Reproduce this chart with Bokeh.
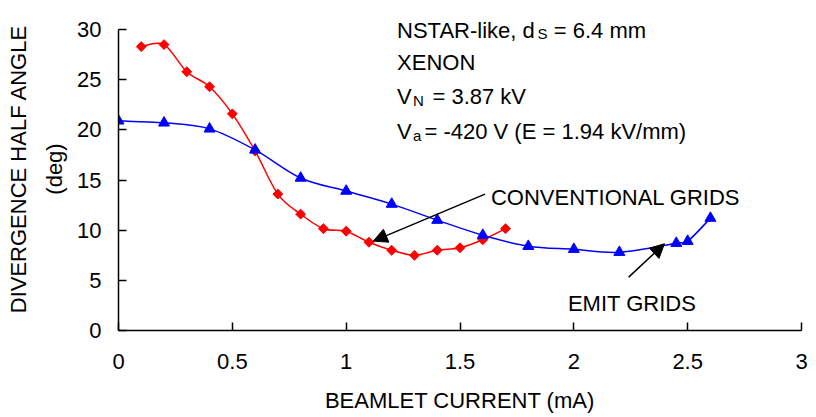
import numpy as np
from bokeh.plotting import figure
from bokeh.models import Range1d, FixedTicker, Label, Arrow, NormalHead
from bokeh.embed import file_html
from bokeh.resources import INLINE

# ---- data ----
conv_x = [0.1, 0.2, 0.3, 0.4, 0.5, 0.6, 0.7, 0.8, 0.9, 1.0, 1.1, 1.2, 1.3, 1.4, 1.5, 1.6, 1.7]
conv_y = [28.3, 28.5, 25.8, 24.3, 21.6, 17.9, 13.6, 11.6, 10.15, 9.9, 8.8, 8.0, 7.5, 8.0, 8.25, 9.05, 10.15]

emit_x = [0.0, 0.2, 0.4, 0.6, 0.8, 1.0, 1.2, 1.4, 1.6, 1.8, 2.0, 2.2, 2.45, 2.5, 2.6]
emit_y = [20.9, 20.7, 20.1, 18.0, 15.2, 13.9, 12.6, 11.0, 9.5, 8.4, 8.1, 7.8, 8.7, 8.9, 11.2]

x_ticks = [0, 0.5, 1, 1.5, 2, 2.5, 3]
x_tick_labels = ["0", "0.5", "1", "1.5", "2", "2.5", "3"]
y_ticks = [0, 5, 10, 15, 20, 25, 30]
y_tick_labels = ["0", "5", "10", "15", "20", "25", "30"]

FONT = "Liberation Sans"
FS = "22px"
SUB = "15px"

p = figure(width=816, height=417, output_backend="svg", toolbar_location=None,
           title=None, x_range=Range1d(0, 3), y_range=Range1d(0, 32.2),
           min_border_left=118, min_border_right=15, min_border_top=7,
           min_border_bottom=87)
p.outline_line_color = None
p.xgrid.visible = False
p.ygrid.visible = False
p.background_fill_color = "white"
p.border_fill_color = "white"

for ax in (p.xaxis[0], p.yaxis[0]):
    ax.major_tick_in = 8
    ax.major_tick_out = 0
    ax.minor_tick_line_color = None
    ax.axis_line_color = "#000000"
    ax.axis_line_width = 1.5
    ax.major_tick_line_color = "#000000"
    ax.major_tick_line_width = 1.5
    ax.major_label_text_font = FONT
    ax.major_label_text_font_size = FS
    ax.major_label_text_color = "#000000"
    ax.axis_label_text_font = FONT
    ax.axis_label_text_font_size = FS
    ax.axis_label_text_font_style = "normal"
    ax.axis_label_text_color = "#000000"

p.xaxis.ticker = FixedTicker(ticks=x_ticks)
p.xaxis.major_label_overrides = dict(zip(x_ticks, x_tick_labels))
p.xaxis.major_label_standoff = 23
p.xaxis.axis_label = "BEAMLET CURRENT (mA)"
p.xaxis.axis_label_standoff = 16

p.yaxis.bounds = (0, 30)
p.yaxis.ticker = FixedTicker(ticks=y_ticks)
p.yaxis.major_label_overrides = dict(zip(y_ticks, y_tick_labels))
p.yaxis.major_label_standoff = 17
p.yaxis.axis_label = "DIVERGENCE HALF ANGLE\n(deg)"
p.yaxis.axis_label_text_line_height = 1.45
p.yaxis.axis_label_standoff = 7


def smooth(xs, ys):
    x = np.asarray(xs, float)
    y = np.asarray(ys, float)
    n = len(x)
    xp = np.concatenate([[x[0]], x, [x[-1]]])
    yp = np.concatenate([[y[0]], y, [y[-1]]])
    cx0 = x[:-1] + (xp[2:n + 1] - xp[0:n - 1]) / 6.0
    cy0 = y[:-1] + (yp[2:n + 1] - yp[0:n - 1]) / 6.0
    cx1 = x[1:] - (xp[3:n + 2] - xp[1:n]) / 6.0
    cy1 = y[1:] - (yp[3:n + 2] - yp[1:n]) / 6.0
    return dict(x0=x[:-1], y0=y[:-1], x1=x[1:], y1=y[1:],
                cx0=cx0, cy0=cy0, cx1=cx1, cy1=cy1)


c = smooth(conv_x, conv_y)
p.bezier(x0=c["x0"], y0=c["y0"], x1=c["x1"], y1=c["y1"],
         cx0=c["cx0"], cy0=c["cy0"], cx1=c["cx1"], cy1=c["cy1"],
         line_color="#FF0000", line_width=1.5)
p.scatter(conv_x, conv_y, marker="square", angle=np.pi / 4, size=7,
          fill_color="#FF0000", line_color="#FF0000")

e = smooth(emit_x, emit_y)
p.bezier(x0=e["x0"], y0=e["y0"], x1=e["x1"], y1=e["y1"],
         cx0=e["cx0"], cy0=e["cy0"], cx1=e["cx1"], cy1=e["cy1"],
         line_color="#0000FF", line_width=1.5)
p.scatter(emit_x, emit_y, marker="triangle", size=11,
          fill_color="#0000FF", line_color="#0000FF")


def lab(x, y, text, size=FS, **kw):
    p.add_layout(Label(x=x, y=y, text=text, text_font=FONT, text_font_size=size,
                       text_color="#000000", text_baseline=kw.pop("baseline", "alphabetic"),
                       text_align=kw.pop("align", "left"), **kw))


# header block
lab(1.2235, 29.94, "NSTAR-like,  d")
lab(1.840, 29.59, "S", size=SUB)
lab(1.912, 29.94, "= 6.4 mm")
lab(1.2235, 26.68, "XENON")
lab(1.2235, 23.28, "V")
lab(1.2934, 22.93, "N", size=SUB)
lab(1.379, 23.28, "= 3.87 kV")
lab(1.2235, 19.79, "V")
lab(1.2934, 19.44, "a", size=SUB)
lab(1.344, 19.79, "= -420 V (E = 1.94 kV/mm)")

# annotations with arrows
lab(1.636, 13.3, "CONVENTIONAL GRIDS")
lab(1.974, 2.66, "EMIT GRIDS")

p.add_layout(Arrow(end=NormalHead(size=14, fill_color="#000000", line_color="#000000"),
                   x_start=1.61, y_start=13.6, x_end=1.119, y_end=8.91,
                   line_color="#000000", line_width=1.5))
p.add_layout(Arrow(end=NormalHead(size=14, fill_color="#000000", line_color="#000000"),
                   x_start=2.241, y_start=5.32, x_end=2.398, y_end=8.65,
                   line_color="#000000", line_width=1.5))

open("out.html", "w").write(file_html(p, INLINE))
